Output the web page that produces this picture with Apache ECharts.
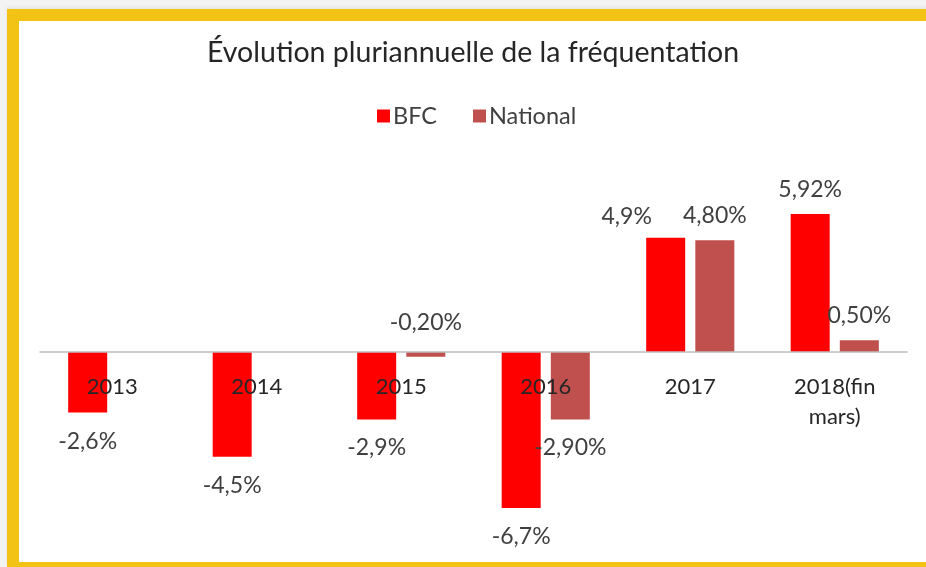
<!DOCTYPE html>
<html>
<head>
<meta charset="utf-8">
<script src="https://cdn.jsdelivr.net/npm/echarts@6/dist/echarts.min.js"></script>
<style>
  html, body { margin: 0; padding: 0; }
  body { width: 926px; height: 567px; background: #f3f3f3; position: relative; overflow: hidden; }
  .frame {
    position: absolute; left: 7px; top: 9px; right: -20px; bottom: 0;
    background: #ffffff;
    border-left: 12px solid #F2C314;
    border-top: 12px solid #F2C314;
    border-bottom: 5px solid #F2C314;
    box-shadow: 0 -2px 4px rgba(0,0,0,0.06);
  }
  #chart { position: absolute; left: 0; top: 0; width: 926px; height: 567px; }
</style>
</head>
<body>
<div class="frame"></div>
<div id="chart"></div>
<script>
  // valeurs
  var categories = ['2013', '2014', '2015', '2016', '2017', '2018(fin\nmars)'];
  var bfcValues = [-2.6, -4.5, -2.9, -6.7, 4.9, 5.92];
  var nationalValues = [null, null, -0.2, -2.9, 4.8, 0.5];
  var bfcLabels = ['-2,6%', '-4,5%', '-2,9%', '-6,7%', '4,9%', '5,92%'];
  var nationalLabels = ['', '', '-0,20%', '-2,90%', '4,80%', '0,50%'];

  var font = 'Lato';
  var textColor = '#404040';
  var yMin = -8, yMax = 6;
  var gridTop = 212.2, gridBottom = 28.6;

  function buildData(values, labels, special) {
    return values.map(function (v, i) {
      if (v === null) return null;
      var lab = {
        position: v < 0 ? 'bottom' : 'top',
        distance: v < 0 ? 17 : 13,
        formatter: labels[i]
      };
      if (special && special[i]) {
        for (var k in special[i]) lab[k] = special[i][k];
      }
      return { value: v, label: lab };
    });
  }

  // l'axe des x (ligne + libellés) est remonté au niveau du zéro
  var plotH = 567 - gridTop - gridBottom;
  var zeroOffset = -plotH * (0 - yMin) / (yMax - yMin);

  var myChart = echarts.init(document.getElementById('chart'));
  myChart.setOption({
    animation: false,
    textStyle: { fontFamily: font },
    title: {
      text: 'Évolution pluriannuelle de la fréquentation',
      left: 202,
      top: 33,
      textStyle: { fontFamily: font, fontSize: 28.5, fontWeight: 'normal', color: '#262626' }
    },
    legend: {
      data: ['BFC', 'National'],
      left: 372,
      top: 99,
      icon: 'rect',
      itemWidth: 13,
      itemHeight: 13,
      itemGap: 36,
      textStyle: { fontFamily: font, fontSize: 23.5, color: textColor, padding: [0, 0, 0, -2] }
    },
    grid: { left: 40, right: 19, top: gridTop, bottom: gridBottom, outerBoundsMode: 'none', containLabel: false },
    xAxis: {
      type: 'category',
      data: categories,
      z: 10,
      position: 'bottom',
      offset: zeroOffset,
      axisLine: { onZero: false, lineStyle: { color: '#bfbfbf', width: 1.5 } },
      axisTick: { show: false },
      axisLabel: { fontFamily: font, fontSize: 22, color: '#262626', margin: 20, lineHeight: 30, interval: 0 }
    },
    yAxis: {
      type: 'value',
      min: yMin,
      max: yMax,
      show: false,
      splitLine: { show: false }
    },
    series: [
      {
        name: 'BFC',
        type: 'bar',
        barWidth: 39,
        barGap: '26%',
        itemStyle: { color: '#FF0000' },
        label: { show: true, fontFamily: font, fontSize: 23, color: textColor },
        data: buildData(bfcValues, bfcLabels, { 4: { offset: [-39, 3] } })
      },
      {
        name: 'National',
        type: 'bar',
        barWidth: 39,
        itemStyle: { color: '#C0504D' },
        label: { show: true, fontFamily: font, fontSize: 23, color: textColor },
        data: buildData(nationalValues, nationalLabels, { 2: { position: 'top', distance: 18 } })
      }
    ]
  });
</script>
</body>
</html>
